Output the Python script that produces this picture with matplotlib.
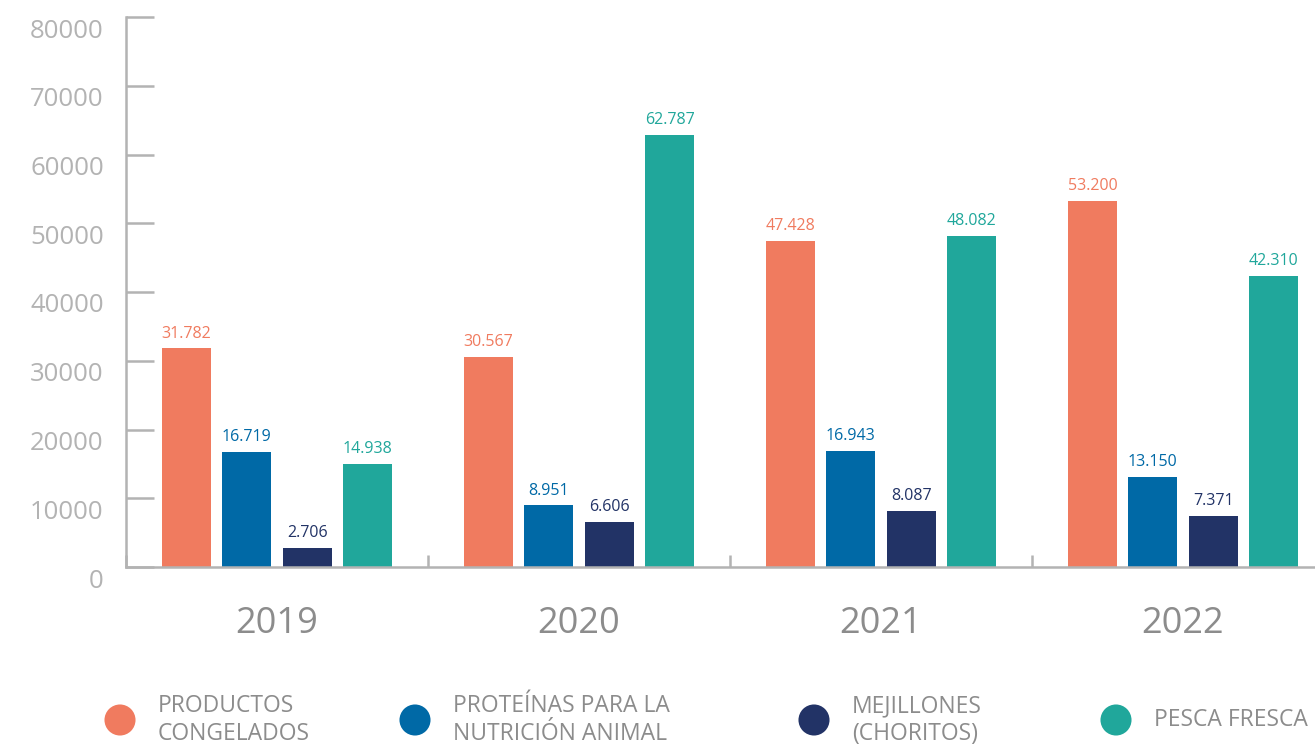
"""Grouped bars: volumes by product line, 2019-2022."""
import matplotlib.pyplot as plt
from matplotlib.transforms import ScaledTranslation

years = ["2019", "2020", "2021", "2022"]
series = ["PRODUCTOS\nCONGELADOS", "PROTEÍNAS PARA LA\nNUTRICIÓN ANIMAL",
          "MEJILLONES\n(CHORITOS)", "PESCA FRESCA"]
congelados = [31782, 30567, 47428, 53200]
proteinas = [16719, 8951, 16943, 13150]
mejillones = [2706, 6606, 8087, 7371]
pesca = [14938, 62787, 48082, 42310]
yticks = [0, 10000, 20000, 30000, 40000, 50000, 60000, 70000, 80000]

colors = ["#F07B5F", "#0069A6", "#223366", "#20A79B"]
GRID = "#b3b3b3"
TXT = "#8c8c8c"

plt.rcParams["font.family"] = ["Open Sans", "DejaVu Sans"]

fig = plt.figure(figsize=(13.15, 7.44), dpi=100)
ax = fig.add_axes([126 / 1315, 177 / 744, 1208 / 1315, 550 / 744])

step, width = 0.2, 0.162
for k, vals in enumerate([congelados, proteinas, mejillones, pesca]):
    xs = [i + (k - 1.5) * step for i in range(len(years))]
    ax.bar(xs, vals, width=width, color=colors[k], zorder=2)
    for x, v in zip(xs, vals):
        ax.annotate(f"{v:,}".replace(",", "."), (x, v), xytext=(0, 5),
                    textcoords="offset points", ha="center", va="bottom",
                    fontsize=11.5, color=colors[k])

ax.set_xlim(-0.5, 3.5)
ax.set_ylim(0, 80000)
for s in ["top", "right"]:
    ax.spines[s].set_visible(False)
for s in ["left", "bottom"]:
    ax.spines[s].set_color(GRID)
    ax.spines[s].set_linewidth(1.8)

ax.set_yticks(yticks)
ax.set_yticklabels([str(t) for t in yticks])
ax.tick_params(axis="y", direction="in", length=20, width=1.8, color=GRID,
               pad=16, labelsize=18.5, labelcolor=GRID)
shift = ScaledTranslation(0, -11 / 100, fig.dpi_scale_trans)
for lab in ax.get_yticklabels():
    lab.set_transform(lab.get_transform() + shift)

ax.set_xticks(range(len(years)))
ax.set_xticklabels(years)
ax.tick_params(axis="x", which="major", length=0, pad=28, labelsize=26,
               labelcolor=TXT)
ax.set_xticks([-0.5, 0.5, 1.5, 2.5], minor=True)
ax.tick_params(axis="x", which="minor", direction="in", length=9, width=1.8,
               color=GRID)

# legend drawn by hand in pixel coordinates, like the source layout
leg = fig.add_axes([0, 0, 1, 1], zorder=-1)
leg.set_xlim(0, 1315)
leg.set_ylim(744, 0)
leg.axis("off")
dots_x = [120, 415, 814, 1116]
for k, name in enumerate(series):
    leg.scatter([dots_x[k]], [720], s=500, color=colors[k], edgecolors="none")
    leg.text(dots_x[k] + 38, 720, name, ha="left", va="center", fontsize=16.5,
             color=TXT, linespacing=1.2)

fig.savefig("out.png", dpi=100)
